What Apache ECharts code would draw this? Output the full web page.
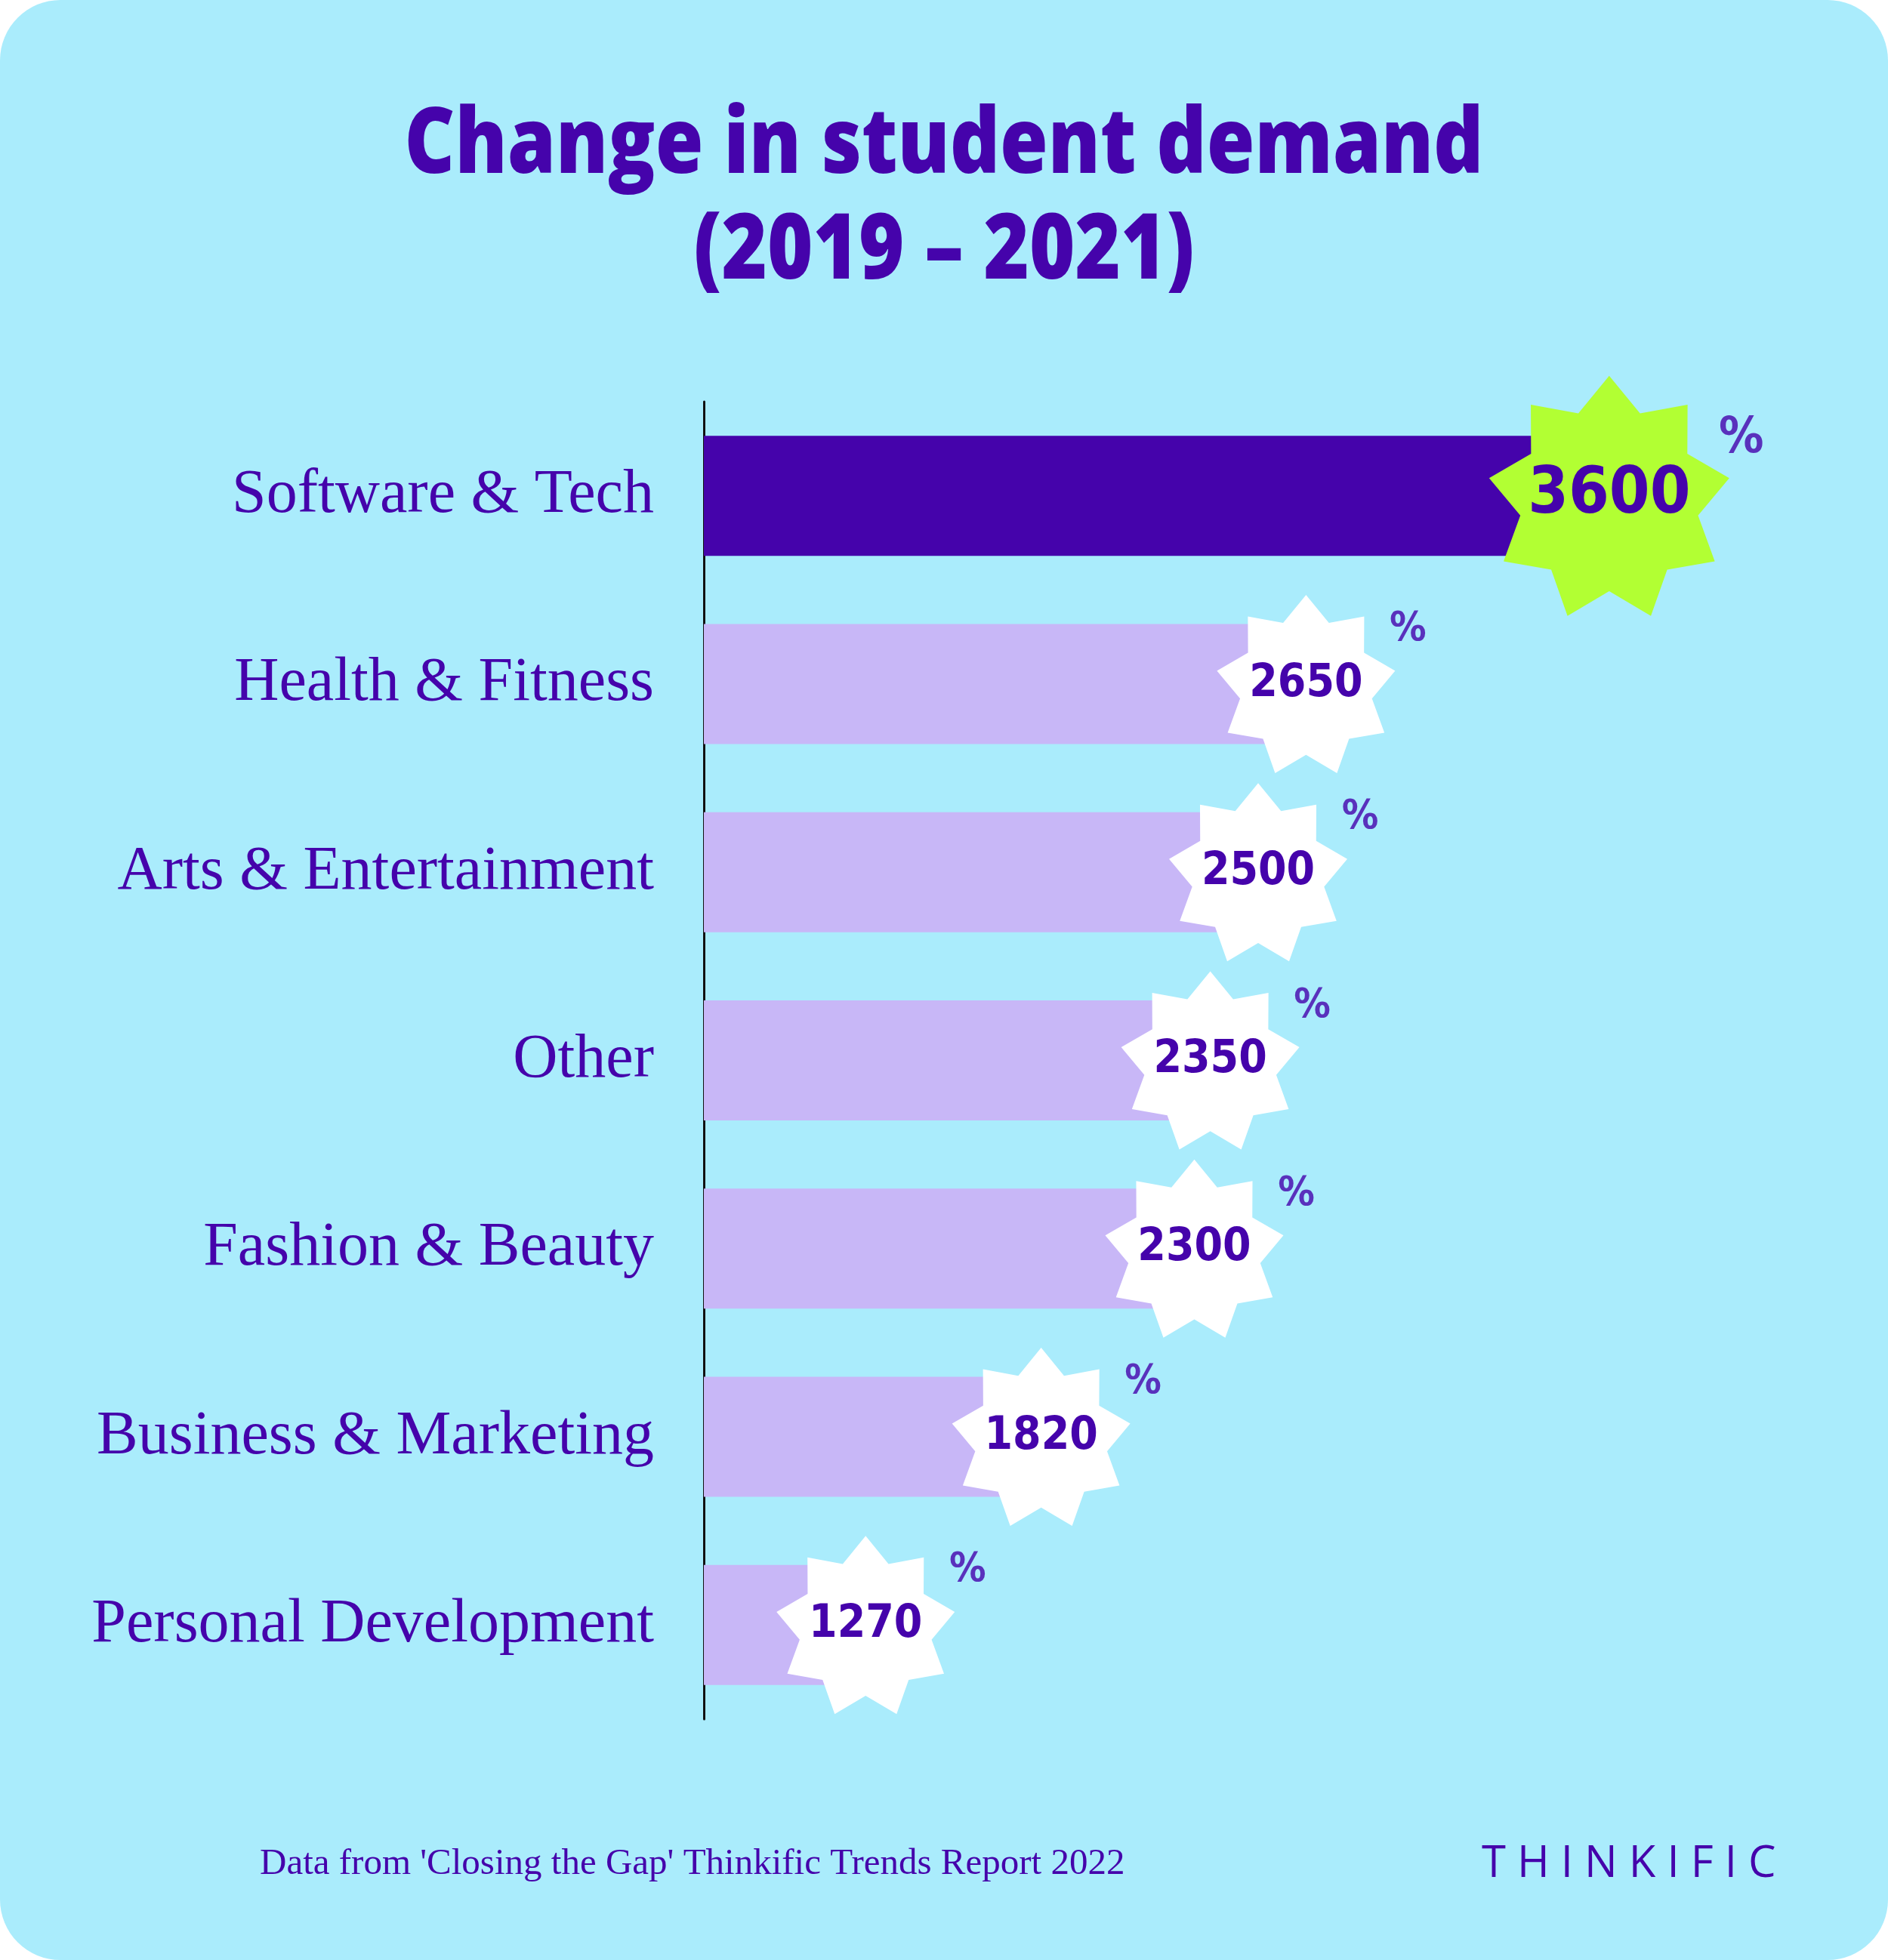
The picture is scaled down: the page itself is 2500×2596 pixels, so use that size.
<!DOCTYPE html>
<html><head><meta charset="utf-8">
<script src="https://cdn.jsdelivr.net/npm/echarts@6/dist/echarts.min.js"></script>
<style>html,body{margin:0;padding:0;background:#fff}#c{width:2500px;height:2596px}</style>
</head><body><div id="c"></div>
<script>
const categories = ['Software & Tech','Health & Fitness','Arts & Entertainment','Other','Fashion & Beauty','Business & Marketing','Personal Development'];
const values = [3600, 2650, 2500, 2350, 2300, 1820, 1270];
const titleLines = ['Change in student demand', '(2019 – 2021)'];
const footnote = "Data from 'Closing the Gap' Thinkific Trends Report 2022";
const brand = 'THINKIFIC';

function starPath(n, rIn) {
  let d = '';
  for (let i = 0; i < 2 * n; i++) {
    const a = Math.PI * i / n - Math.PI / 2;
    const r = i % 2 === 0 ? 1 : rIn;
    const x = 50 + 50 * r * Math.cos(a), y = 50 + 50 * r * Math.sin(a);
    d += (i === 0 ? 'M' : 'L') + x.toFixed(2) + ' ' + y.toFixed(2);
  }
  return 'path://' + d + 'Z';
}
const star = starPath(9, 0.74);
const purple = '#4503ab';

const chart = echarts.init(document.getElementById('c'));
chart.setOption({
  backgroundColor: '#ffffff',
  animation: false,
  graphic: [
    {type: 'rect', shape: {x: 0, y: 0, width: 2500, height: 2596, r: 80}, style: {fill: '#aaecfc'}, z: -10},
    {type: 'text', x: 1250, y: 125, scaleX: 0.86, style: {text: titleLines.join('\n'), font: '900 120px "Open Sans"', fill: purple, textAlign: 'center', lineHeight: 140}},
    {type: 'text', left: 344, top: 2445, style: {text: footnote, font: '49px "Liberation Serif"', fill: purple}},
    {type: 'text', left: 1962, top: 2440, style: {text: brand.split('').join(' '), font: '500 58px "Open Sans"', fill: purple}}
  ],
  grid: {left: 932, top: 532, width: 1468, height: 1745},
  xAxis: {type: 'value', min: 763, max: 4237, show: false},
  yAxis: {type: 'category', data: categories, inverse: true,
    axisLine: {lineStyle: {color: '#111', width: 3}}, axisTick: {show: false},
    axisLabel: {color: purple, fontSize: 82, fontFamily: 'Liberation Serif', margin: 66}},
  series: [
    {type: 'bar', data: values.map((v, i) => ({value: v, itemStyle: {color: i === 0 ? purple : '#c8b7f7'}})), barWidth: 159, z: 1},
    {type: 'scatter', data: values.map((v, i) => ({value: [v, categories[i]],
        symbolSize: i === 0 ? 318 : 236,
        itemStyle: {color: i === 0 ? '#b2ff33' : '#ffffff', opacity: 1},
        label: {fontSize: i === 0 ? 86 : 60}})),
      symbol: star, z: 3,
      label: {show: true, position: 'inside', formatter: p => p.value[0], color: purple, fontWeight: 'bold', fontFamily: 'DejaVu Sans Condensed'}},
    {type: 'scatter', data: values.map((v, i) => ({value: [v, categories[i]],
        label: {offset: i === 0 ? [175, -75] : [135, -72], fontSize: i === 0 ? 66 : 54}})),
      symbolSize: 1, itemStyle: {color: 'rgba(0,0,0,0)'}, z: 4,
      label: {show: true, position: 'inside', formatter: '%', color: purple, fontWeight: 'bold', fontFamily: 'DejaVu Sans Condensed'}}
  ]
});
</script></body></html>
